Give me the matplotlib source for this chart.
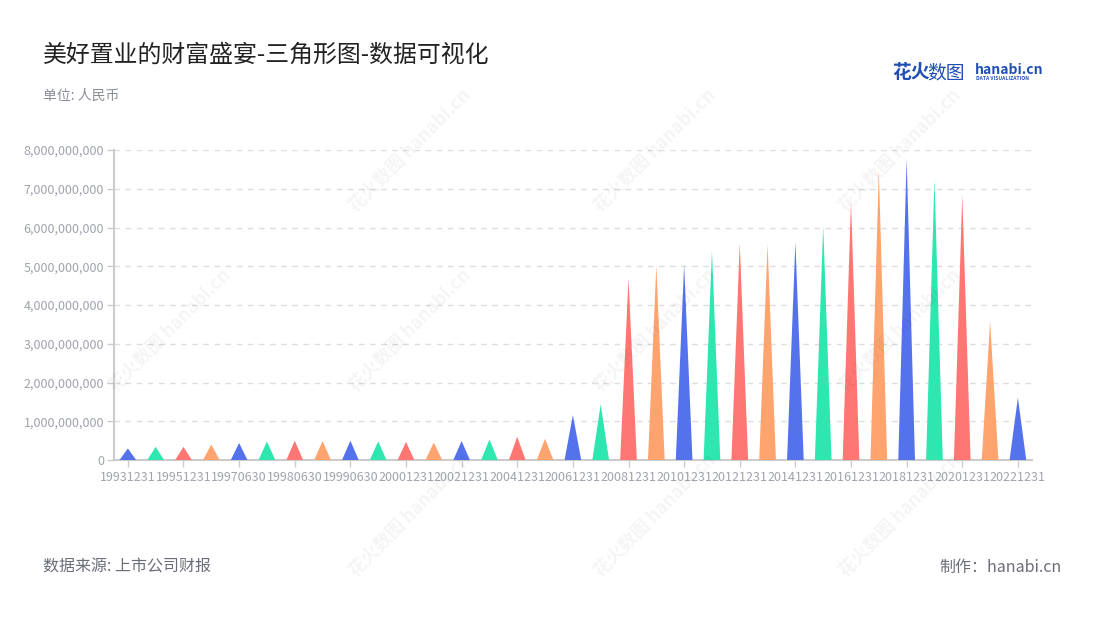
import matplotlib.pyplot as plt
from matplotlib.patches import Polygon
from matplotlib.ticker import FuncFormatter, MultipleLocator

plt.rcParams['font.family'] = ['Noto Sans CJK SC', 'DejaVu Sans']

# report dates and the value for each one (RMB)
periods = [
    "19931231", "19941231", "19951231", "19961231", "19970630", "19971231",
    "19980630", "19981231", "19990630", "19991231", "20001231", "20011231",
    "20021231", "20031231", "20041231", "20051231", "20061231", "20071231",
    "20081231", "20091231", "20101231", "20111231", "20121231", "20131231",
    "20141231", "20151231", "20161231", "20171231", "20181231", "20191231",
    "20201231", "20211231", "20221231",
]
values = [
    0.30e9, 0.34e9, 0.34e9, 0.40e9, 0.44e9, 0.48e9,
    0.50e9, 0.49e9, 0.50e9, 0.48e9, 0.47e9, 0.45e9,
    0.49e9, 0.53e9, 0.60e9, 0.55e9, 1.16e9, 1.44e9,
    4.69e9, 5.02e9, 5.04e9, 5.40e9, 5.59e9, 5.57e9,
    5.63e9, 6.04e9, 6.67e9, 7.48e9, 7.78e9, 7.24e9,
    6.84e9, 3.57e9, 1.61e9,
]
palette = ["#5572ED", "#2DE6B0", "#FF7672", "#FFA36F"]

fig = plt.figure(figsize=(11, 6.2), dpi=100)
ax = fig.add_axes([0.1036, 0.258, 0.8344, 0.5])

half = 0.30  # half width of each triangle, in category units
for i, v in enumerate(values):
    tri = Polygon([(i - half, 0), (i, v), (i + half, 0)], closed=True,
                  facecolor=palette[i % 4], edgecolor="none", zorder=3)
    ax.add_patch(tri)

ax.set_xlim(-0.5, len(values) - 0.5)
ax.set_ylim(0, 8e9)
ax.yaxis.set_major_locator(MultipleLocator(1e9))
ax.yaxis.set_major_formatter(FuncFormatter(lambda y, _: f"{int(y):,}"))

ax.set_xticks(range(0, len(periods), 2))
ax.set_xticklabels(periods[::2])

ax.grid(axis="y", color="#dddddd", linestyle=(0, (4, 4)), linewidth=1, zorder=0)
for side in ["top", "right"]:
    ax.spines[side].set_visible(False)
for side in ["left", "bottom"]:
    ax.spines[side].set_color("#cccccc")
    ax.spines[side].set_linewidth(1.5)
ax.tick_params(axis="both", colors="#cccccc", labelcolor="#a0a3ad",
               labelsize=9, length=5, width=1)
ax.tick_params(axis="x", pad=3)
ax.tick_params(axis="y", pad=2)

# watermarks
for (wx, wy) in [(410, 150), (655, 150), (900, 150),
                 (170, 330), (410, 330), (655, 330), (900, 330),
                 (410, 515), (655, 515), (900, 515)]:
    fig.text(wx / 1100, 1 - wy / 620, "花火数图 hanabi.cn", rotation=45,
             fontsize=13, color="#000000", alpha=0.045, ha="center",
             va="center", fontweight="bold")

# titles and notes
fig.text(43 / 1100, 1 - 55 / 620, "美好置业的财富盛宴-三角形图-数据可视化",
         fontsize=17.2, color="#222222", va="center")
fig.text(43 / 1100, 1 - 96 / 620, "单位: 人民币", fontsize=10,
         color="#8a8d99", va="center")
fig.text(43 / 1100, 1 - 567 / 620, "数据来源: 上市公司财报", fontsize=11.5,
         color="#6b6e78", va="center")
fig.text(1062 / 1100, 1 - 567 / 620, "制作：hanabi.cn", fontsize=11.5,
         color="#6b6e78", va="center", ha="right")

# logo
fig.text(892 / 1100, 1 - 73 / 620, "花火", fontsize=13.5, fontweight="bold",
         color="#1f4fb5", va="center")
fig.text(927 / 1100, 1 - 73 / 620, "数图", fontsize=13.5,
         color="#1f4fb5", va="center")
fig.text(975 / 1100, 1 - 70 / 620, "hanabi.cn", fontsize=10,
         fontweight="bold", color="#1f4fb5", va="center")
fig.text(976 / 1100, 1 - 79 / 620, "DATA VISUALIZATION", fontsize=3.6,
         fontweight="bold", color="#1f4fb5", va="center")

fig.savefig("out.png", dpi=100, facecolor="white")
